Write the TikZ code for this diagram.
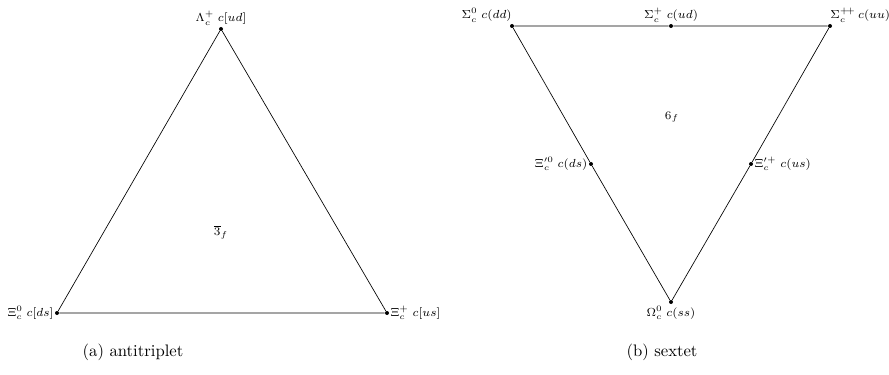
\documentclass[tikz,border=0pt]{standalone}
\usepackage{amsmath}
\usepackage{amssymb}
\usetikzlibrary{arrows}

\tikzset{quark/.style={circle,fill,inner sep=0pt,minimum size=2.4pt},
         lab/.style={font=\scriptsize,inner sep=2pt}}

\begin{document}
\begin{tikzpicture}[x=0.6pt,y=-0.6pt]
		\useasboundingbox (0,0) rectangle (889,375);
		% antitriplet
		\node [quark] (lam) at (221,29) {};
		\node [quark] (xi0) at (57,313) {};
		\node [quark] (xip) at (387,313) {};
		\draw (lam) -- (xip) -- (xi0) -- (lam);
		\node [lab,above] (llam) at (lam) {$\Lambda_c^+\;c[ud]$};
		\node [lab,left] (lxi0) at (xi0) {$\Xi_c^0\;c[ds]$};
		\node [lab,right] (lxip) at (xip) {$\Xi_c^+\;c[us]$};
		\node [lab] (three) at (221,232) {$\overline{3}_f$};
		
		% sextet
		\node [quark] (sig0) at (512,26) {};
		\node [quark] (sigp) at (671,26) {};
		\node [quark] (sigpp) at (830,26) {};
		\node [quark] (xiq0) at (591,164) {};
		\node [quark] (xiqp) at (751,164) {};
		\node [quark] (ome) at (671,302) {};
		\draw (sig0) -- (sigp) -- (sigpp) -- (xiqp) -- (ome) -- (xiq0) -- (sig0);
		\node [lab,above left,xshift=2pt] (lsig0) at (sig0) {$\Sigma_c^0\;c(dd)$};
		\node [lab,above] (lsigp) at (sigp) {$\Sigma_c^+\;c(ud)$};
		\node [lab,above right,xshift=-2pt] (lsigpp) at (sigpp) {$\Sigma_c^{+\!+}\,c(uu)$};
		\node [lab,left] (lxiq0) at (xiq0) {$\Xi_c^{\prime 0}\;c(ds)$};
		\node [lab,right] (lxiqp) at (xiqp) {$\Xi_c^{\prime +}\;c(us)$};
		\node [lab,below] (lome) at (ome) {$\Omega_c^0\;c(ss)$};
		\node [lab] (six) at (672,117) {$6_f$};
		
		\node (capa) at (133,352) {(a) antitriplet};
		\node (capb) at (662,352) {(b) sextet};
\end{tikzpicture}
\end{document}
